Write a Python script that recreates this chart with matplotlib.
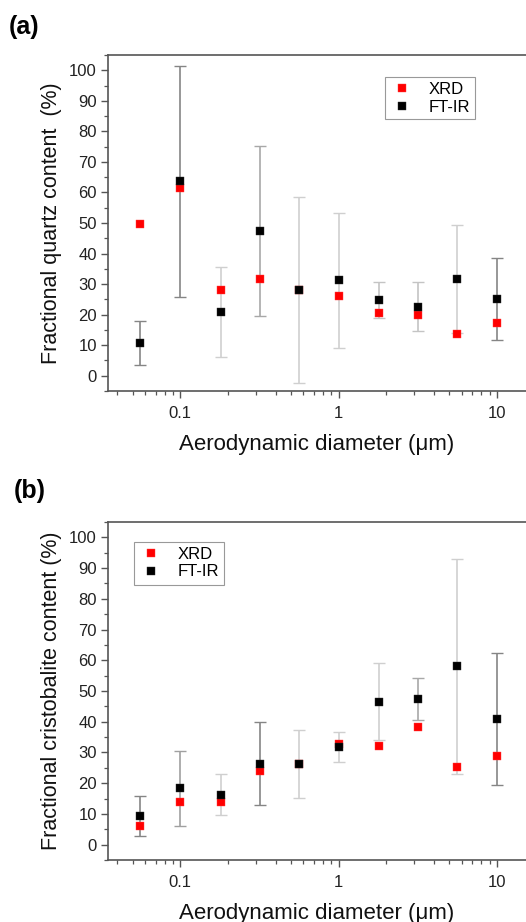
import matplotlib
matplotlib.use("Agg")
import matplotlib.pyplot as plt
import numpy as np
from matplotlib.ticker import MultipleLocator, LogLocator, FixedLocator, NullFormatter

plt.rcParams['font.family'] = ['Liberation Sans', 'DejaVu Sans']

diam = [0.056, 0.1, 0.18, 0.32, 0.56, 1.0, 1.8, 3.2, 5.6, 10.0]

# (a) quartz
quartz_xrd = [49.8, 61.5, 28.2, 31.7, 28.0, 26.0, 20.4, 20.0, 13.7, 17.1]
quartz_ftir = [10.7, 63.6, 20.9, 47.5, 28.1, 31.2, 24.8, 22.6, 31.6, 25.2]
quartz_ftir_err = [7.1, 37.8, 14.8, 27.8, 30.4, 22.2, 5.8, 8.0, 17.7, 13.4]

# (b) cristobalite
crist_xrd = [6.1, 13.8, 14.0, 23.9, 26.3, 32.9, 32.2, 38.2, 25.2, 28.7]
crist_ftir = [9.3, 18.3, 16.3, 26.4, 26.3, 31.7, 46.5, 47.4, 58.1, 40.8]
crist_ftir_err = [6.6, 12.3, 6.6, 13.5, 11.1, 4.8, 12.6, 6.8, 35.0, 21.5]

panel_labels = ['(a)', '(b)']
ylabels = ['Fractional quartz content  (%)', 'Fractional cristobalite content (%)']
xlabel = 'Aerodynamic diameter (\u03bcm)'
series_names = ['XRD', 'FT-IR']

DARK = '#858585'
LIGHT = '#cfcfcf'
err_colors_a = [DARK, DARK, LIGHT, '#a8a8a8', LIGHT, LIGHT, '#c4c4c4', '#c4c4c4', LIGHT, DARK]
err_colors_b = [DARK, '#a0a0a0', LIGHT, DARK, LIGHT, LIGHT, LIGHT, '#a8a8a8', LIGHT, DARK]

W, H = 526, 922
fig = plt.figure(figsize=(W / 100, H / 100), dpi=100)

def make_axes(top_px, bot_px):
    left = 108
    right = 526
    return fig.add_axes([left / W, 1 - bot_px / H, (right - left) / W, (bot_px - top_px) / H])

ax_a = make_axes(55, 391)
ax_b = make_axes(522, 860)

spine_col = '#555555'

def style(ax, ylab):
    ax.set_xscale('log')
    ax.set_xlim(0.0349, 15.3)
    ax.set_ylim(-5, 105)
    ax.yaxis.set_major_locator(MultipleLocator(10))
    ax.yaxis.set_minor_locator(MultipleLocator(5))
    ax.xaxis.set_major_locator(FixedLocator([0.1, 1, 10]))
    ax.xaxis.set_minor_locator(LogLocator(base=10, subs=np.arange(2, 10), numticks=20))
    ax.xaxis.set_minor_formatter(NullFormatter())
    ax.set_xticklabels(['0.1', '1', '10'])
    for s in ['left', 'bottom', 'top']:
        ax.spines[s].set_color(spine_col)
        ax.spines[s].set_linewidth(1.2)
    ax.spines['right'].set_visible(False)
    ax.tick_params(which='major', direction='out', length=5, width=1.0, color=spine_col,
                   labelsize=12, labelcolor='#222222', top=False, right=False, pad=3)
    ax.tick_params(axis='x', which='major', pad=6)
    ax.tick_params(which='minor', direction='out', length=3, width=0.9, color=spine_col,
                   top=False, right=False)
    ax.set_xlabel(xlabel, fontsize=16, color='#111111', labelpad=9)
    ax.set_ylabel(ylab, fontsize=15.5, color='#111111', labelpad=5)

def draw(ax, xrd, ftir, err, ecols):
    for xi, yi, ei, c in zip(diam, ftir, err, ecols):
        ax.errorbar([xi], [yi], yerr=[ei], fmt='none', ecolor=c, elinewidth=1.2,
                    capsize=4, capthick=1.0, zorder=1)
    ax.plot(diam, xrd, 's', color='#ff0000', markersize=5.2, markeredgewidth=0.3,
            markeredgecolor='#ff4040', zorder=2, label=series_names[0])
    ax.plot(diam, ftir, 's', color='#000000', markersize=5.2, markeredgewidth=0.3,
            markeredgecolor='#303030', zorder=3, label=series_names[1])

draw(ax_a, quartz_xrd, quartz_ftir, quartz_ftir_err, err_colors_a)
draw(ax_b, crist_xrd, crist_ftir, crist_ftir_err, err_colors_b)
style(ax_a, ylabels[0])
style(ax_b, ylabels[1])

def legend(ax, x_px, y_px):
    lg = ax.legend(loc='upper left', bbox_to_anchor=(x_px / W, 1 - y_px / H),
                   bbox_transform=fig.transFigure, fontsize=12, frameon=True,
                   fancybox=False, edgecolor='#999999', framealpha=1,
                   handlelength=1.4, handletextpad=0.9, borderpad=0.3,
                   labelspacing=0.15, markerscale=1.0, borderaxespad=0)
    lg.get_frame().set_linewidth(0.8)

legend(ax_a, 385, 77)
legend(ax_b, 134, 542)

fig.text(9 / W, 1 - 27 / H, panel_labels[0], fontsize=18, fontweight='bold', va='center', ha='left')
fig.text(14 / W, 1 - 491 / H, panel_labels[1], fontsize=18, fontweight='bold', va='center', ha='left')

fig.savefig('out.png', dpi=100)
